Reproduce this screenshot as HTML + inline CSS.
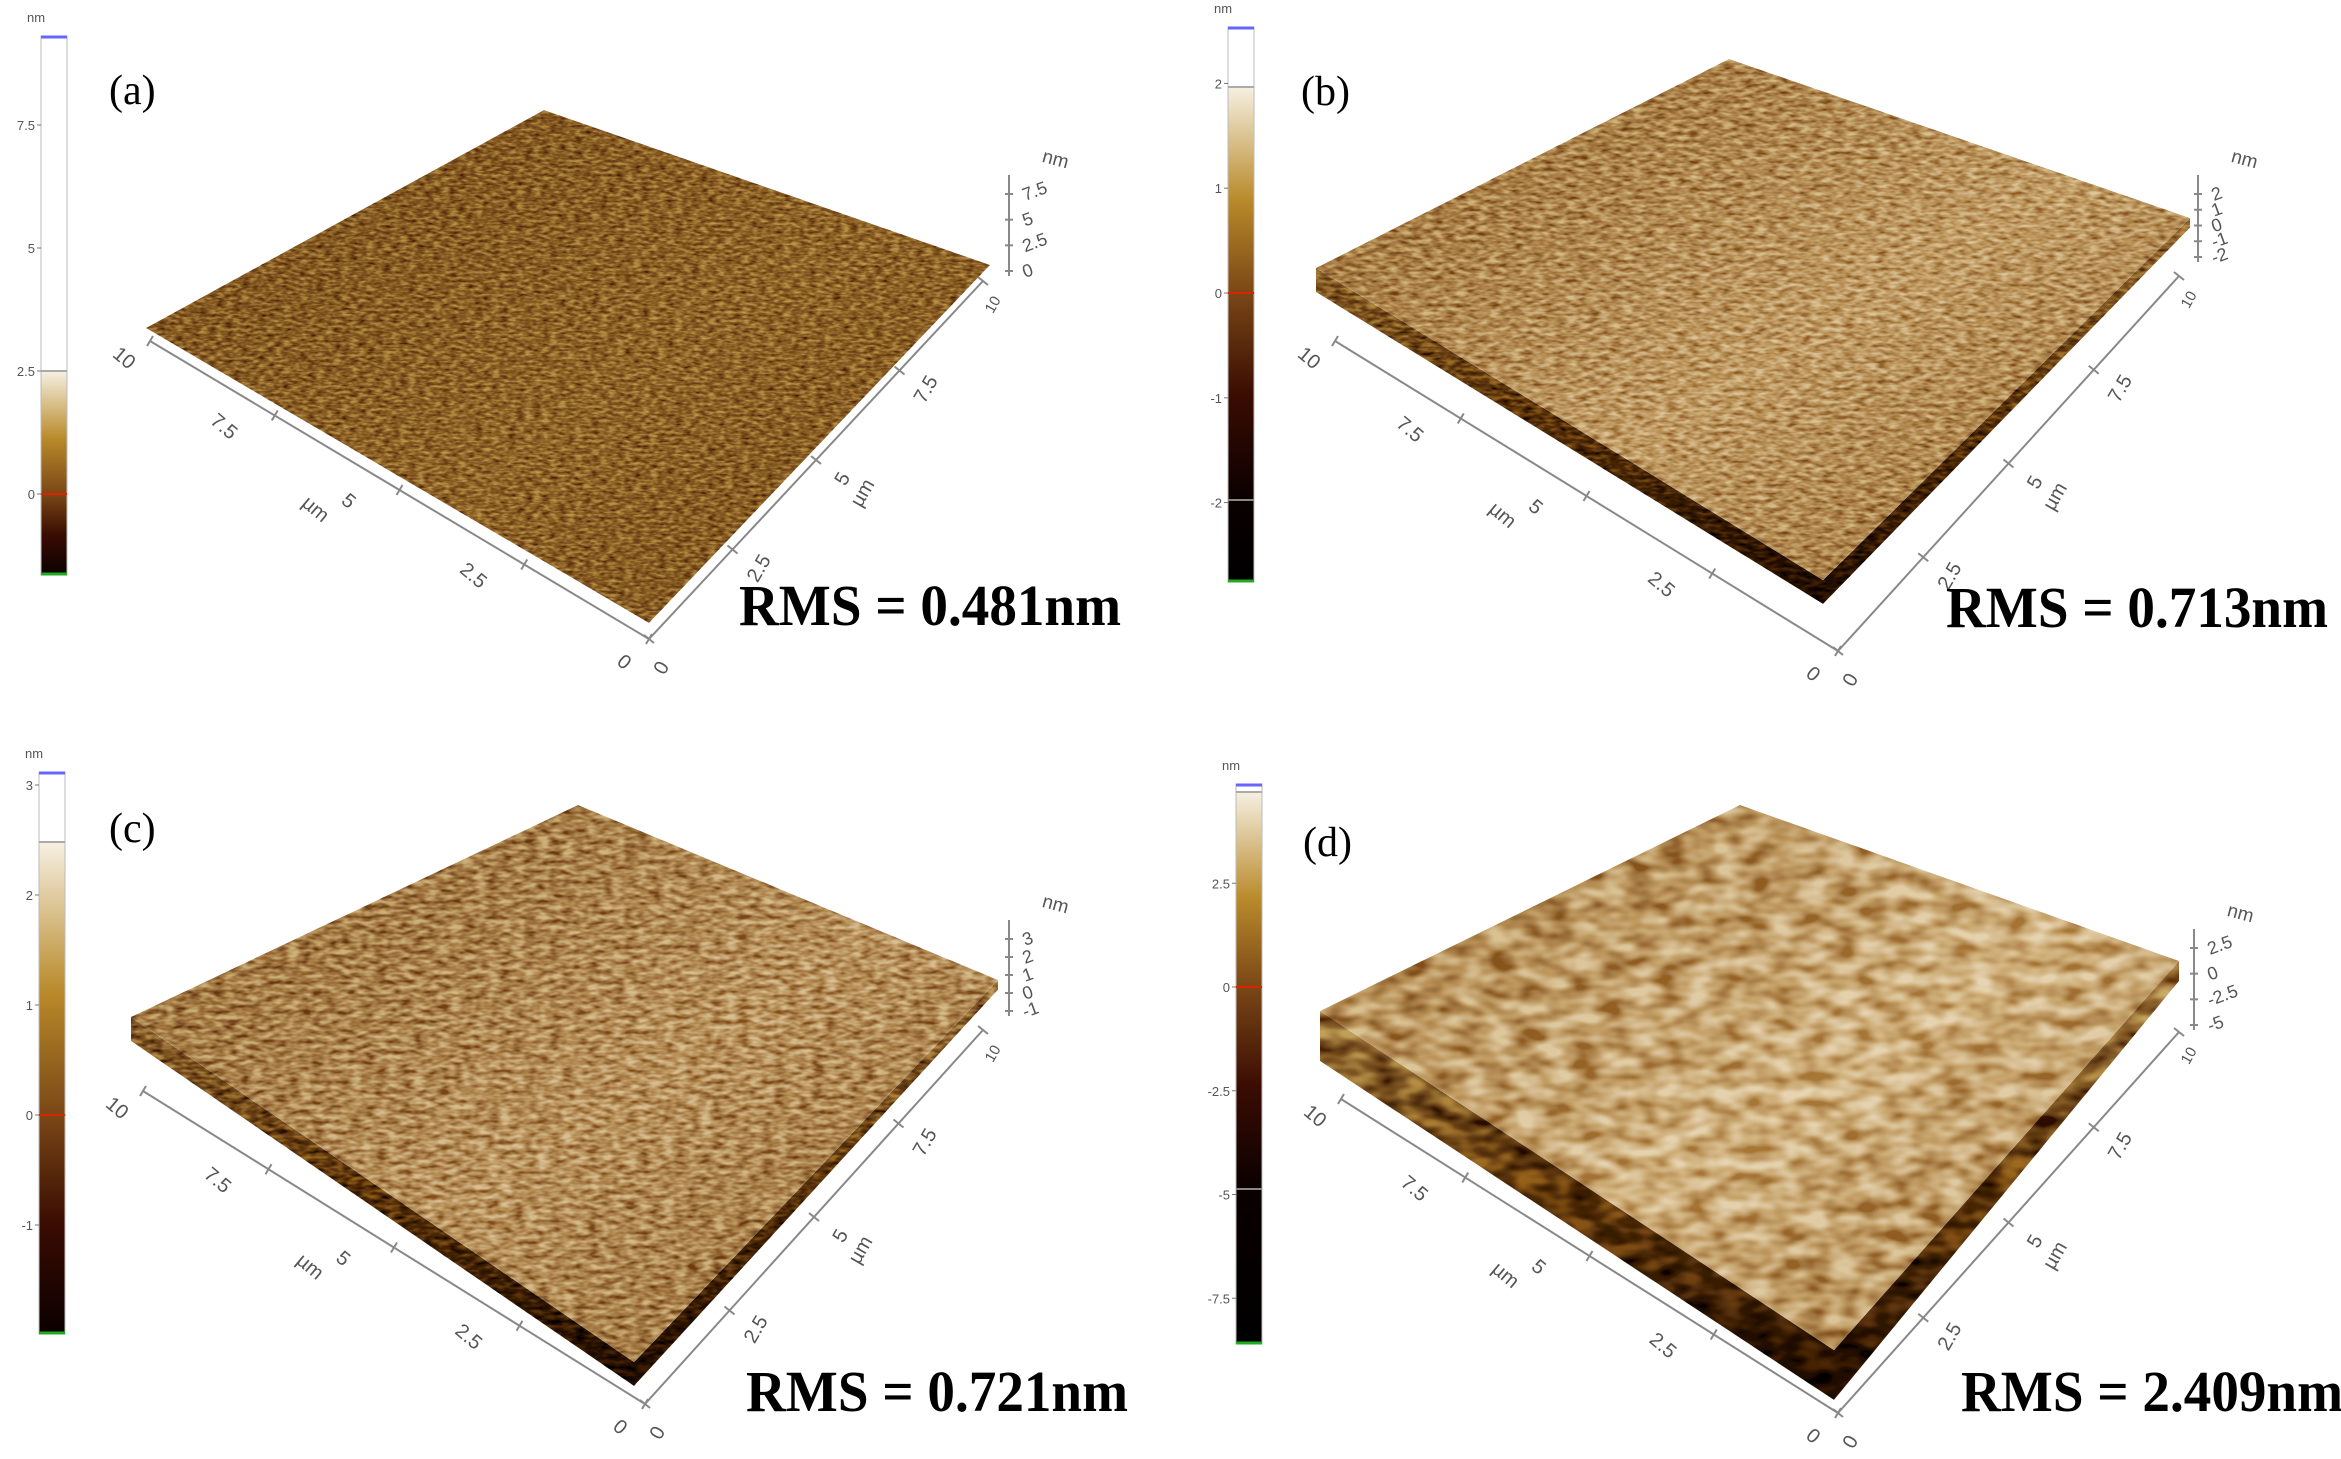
<!DOCTYPE html>
<html><head><meta charset="utf-8">
<style>
html,body{margin:0;padding:0;background:#fff;overflow:hidden;width:2341px;height:1459px;}
svg{display:block;}
text{font-family:"Liberation Sans",sans-serif;}
.serif{font-family:"Liberation Serif",serif;}
</style></head>
<body>
<svg id="fig" width="2341" height="1459" viewBox="0 0 2341 1459" xmlns="http://www.w3.org/2000/svg">
<defs>
  <filter id="tex-a" x="-5%" y="-5%" width="110%" height="110%">
    <feTurbulence type="fractalNoise" baseFrequency="0.12 0.35" numOctaves="2" seed="3" result="n"/>
    <feColorMatrix in="n" type="matrix" values="1.5 0 0 0 -0.25 1.5 0 0 0 -0.25 1.5 0 0 0 -0.25 0 0 0 0 1" result="g"/>
    <feBlend in="g" in2="SourceGraphic" mode="soft-light" result="b"/>
    <feComposite in="b" in2="SourceGraphic" operator="in"/>
  </filter>
  <filter id="tex-b" x="-5%" y="-5%" width="110%" height="110%">
    <feTurbulence type="fractalNoise" baseFrequency="0.09 0.25" numOctaves="2" seed="7" result="n"/>
    <feColorMatrix in="n" type="matrix" values="1.7 0 0 0 -0.35 1.7 0 0 0 -0.35 1.7 0 0 0 -0.35 0 0 0 0 1" result="g"/>
    <feBlend in="g" in2="SourceGraphic" mode="soft-light" result="b"/>
    <feComposite in="b" in2="SourceGraphic" operator="in"/>
  </filter>
  <filter id="tex-c" x="-5%" y="-5%" width="110%" height="110%">
    <feTurbulence type="fractalNoise" baseFrequency="0.08 0.2" numOctaves="2" seed="11" result="n"/>
    <feColorMatrix in="n" type="matrix" values="1.8 0 0 0 -0.4 1.8 0 0 0 -0.4 1.8 0 0 0 -0.4 0 0 0 0 1" result="g"/>
    <feBlend in="g" in2="SourceGraphic" mode="soft-light" result="b"/>
    <feComposite in="b" in2="SourceGraphic" operator="in"/>
  </filter>
  <filter id="tex-d" x="-5%" y="-5%" width="110%" height="110%">
    <feTurbulence type="fractalNoise" baseFrequency="0.035 0.07" numOctaves="2" seed="5" result="n"/>
    <feColorMatrix in="n" type="matrix" values="2.0 0 0 0 -0.5 2.0 0 0 0 -0.5 2.0 0 0 0 -0.5 0 0 0 0 1" result="g"/>
    <feBlend in="g" in2="SourceGraphic" mode="soft-light" result="b"/>
    <feComposite in="b" in2="SourceGraphic" operator="in"/>
  </filter>
</defs>
</svg>
<script>
// colorbar tick values per panel
const ticksA = [7.5, 5, 2.5, 0];
const ticksB = [2, 1, 0, -1, -2];
const ticksC = [3, 2, 1, 0, -1];
const ticksD = [2.5, 0, -2.5, -5, -7.5];
const labelsA = ["7.5", "5", "2.5", "0"];
const labelsB = ["2", "1", "0", "-1", "-2"];
const labelsC = ["3", "2", "1", "0", "-1"];
const labelsD = ["2.5", "0", "-2.5", "-5", "-7.5"];
const zLabelsA = ["7.5", "5", "2.5", "0"];
const zLabelsB = ["2", "1", "0", "-1", "-2"];
const zLabelsC = ["3", "2", "1", "0", "-1"];
const zLabelsD = ["2.5", "0", "-2.5", "-5"];
const axisLabels = ["0", "2.5", "5", "7.5", "10"];
const rmsValues = ["0.481", "0.713", "0.721", "2.409"];

const NS = "http://www.w3.org/2000/svg";
const svg = document.getElementById('fig');
function mk(tag, attrs, parent) {
  const e = document.createElementNS(NS, tag);
  for (const k in attrs) e.setAttribute(k, attrs[k]);
  (parent || svg).appendChild(e);
  return e;
}

const panels = [
 {id:'a', letter:'(a)', lx:109, ly:104, base:'#7c4f1c', light:'#8f6126', skirt:0,
  L:[146,328], T:[544,110], R:[990,265], B:[649,623],
  O:[649,639], LE:[150,341], RE:[983,281], V:{x:1009,y0:175,y1:276},
  cb:{x:41,y:36,w:26,h:539,whiteEnd:371,zero:494,ppu:49.2,gray:null},
  ticks:ticksA, labels:labelsA, zl:zLabelsA, rmsX:739, rmsY:625, rms:rmsValues[0]},
 {id:'b', letter:'(b)', lx:1301, ly:105, base:'#98692e', light:'#c09a60', skirt:24,
  L:[1316,268], T:[1729,59], R:[2190,218], B:[1823,580],
  O:[1838,651], LE:[1335,341], RE:[2179,276], V:{x:2198,y0:175,y1:262},
  cb:{x:1228,y:27,w:26,h:555,whiteEnd:87,zero:293,ppu:104.8,gray:500},
  ticks:ticksB, labels:labelsB, zl:zLabelsB, rmsX:1946, rmsY:627, rms:rmsValues[1]},
 {id:'c', letter:'(c)', lx:109, ly:842, base:'#946630', light:'#b89058', skirt:24,
  L:[131,1017], T:[578,805], R:[998,980], B:[634,1362],
  O:[645,1404], LE:[143,1091], RE:[983,1030], V:{x:1009,y0:920,y1:1016},
  cb:{x:39,y:772,w:26,h:562,whiteEnd:842,zero:1115,ppu:110,gray:null},
  ticks:ticksC, labels:labelsC, zl:zLabelsC, rmsX:746, rmsY:1411, rms:rmsValues[2]},
 {id:'d', letter:'(d)', lx:1303, ly:856, base:'#a87c3e', light:'#d0b07a', skirt:50,
  L:[1320,1011], T:[1740,805], R:[2179,961], B:[1834,1350],
  O:[1838,1413], LE:[1341,1099], RE:[2179,1032], V:{x:2194,y0:929,y1:1030},
  cb:{x:1236,y:784,w:26,h:560,whiteEnd:792,zero:987,ppu:41.5,gray:1189},
  ticks:ticksD, labels:labelsD, zl:zLabelsD, rmsX:1961, rmsY:1411, rms:rmsValues[3]}
];

panels.forEach(p => {
  const g = mk('g', {});
  
  
  const defs = svg.querySelector('defs');

  // colorbar
  const cb = p.cb;
  const gid = 'cbgrad-' + p.id;
  const lg = mk('linearGradient', {id:gid, x1:0, y1:0, x2:0, y2:1}, defs);
  const fr = y => ((y - cb.y) / cb.h).toFixed(3);
  const wE = fr(cb.whiteEnd), z = fr(cb.zero);
  const darkEnd = cb.gray ? fr(cb.gray) : 1;
  const stops = [[0,'#ffffff'],[wE,'#ffffff'],[wE,'#f6f0e2'],
    [(+wE + (+z - wE) * 0.55).toFixed(3),'#b98a2a'],[z,'#7a4716'],
    [(+z + (darkEnd - z) * 0.5).toFixed(3),'#3a0c02'],[darkEnd,'#0a0000'],[1,'#000000']];
  stops.forEach(s => mk('stop', {offset:s[0], 'stop-color':s[1]}, lg));
  const bar = mk('rect', {x:cb.x, y:cb.y, width:cb.w, height:cb.h, fill:'url(#'+gid+')', stroke:'#bbb', 'stroke-width':1}, g);
  
  
  mk('line', {x1:cb.x, x2:cb.x+cb.w, y1:cb.y+1, y2:cb.y+1, stroke:'#6666ff', 'stroke-width':3}, g);
  mk('line', {x1:cb.x, x2:cb.x+cb.w, y1:cb.y+cb.h-1, y2:cb.y+cb.h-1, stroke:'#22aa22', 'stroke-width':3}, g);
  mk('line', {x1:cb.x, x2:cb.x+cb.w, y1:cb.zero, y2:cb.zero, stroke:'#dd2200', 'stroke-width':2}, g);
  mk('line', {x1:cb.x, x2:cb.x+cb.w, y1:cb.whiteEnd, y2:cb.whiteEnd, stroke:'#aaa', 'stroke-width':2}, g);
  if (cb.gray) mk('line', {x1:cb.x, x2:cb.x+cb.w, y1:cb.gray, y2:cb.gray, stroke:'#888', 'stroke-width':2}, g);
  const nm = mk('text', {x:cb.x-14, y:cb.y-14, 'font-size':13, fill:'#555'}, g);
  nm.textContent = 'nm';
  
  
  p.ticks.forEach((v, i) => {
    const y = cb.zero - v * cb.ppu;
    mk('line', {x1:cb.x-4, x2:cb.x, y1:y, y2:y, stroke:'#777', 'stroke-width':1}, g);
    const t = mk('text', {x:cb.x-6, y:y+5, 'font-size':13, fill:'#555', 'text-anchor':'end'}, g);
    t.textContent = p.labels[i];
    
    
  });

  // surface skirt (front faces)
  if (p.skirt) {
    const sg = 'sk-' + p.id;
    const lg2 = mk('linearGradient', {id:sg, x1:0, y1:0, x2:0, y2:1}, defs);
    mk('stop', {offset:0, 'stop-color':p.base}, lg2);
    mk('stop', {offset:0.5, 'stop-color':'#5a3208'}, lg2);
    mk('stop', {offset:1, 'stop-color':'#1a0800'}, lg2);
    const s = p.skirt;
    const sk = mk('polygon', {points:[p.L, [p.L[0], p.L[1]+s], [p.B[0], p.B[1]+s], [p.R[0], p.R[1]+s*0.4], p.R, p.B].map(q=>q.join(',')).join(' '),
      fill:'url(#'+sg+')', filter:'url(#tex-'+p.id+')'}, g);
    
    
  }
  // surface top
  const tg = 'tg-' + p.id;
  const lg3 = mk('linearGradient', {id:tg, x1:0, y1:0, x2:1, y2:1}, defs);
  mk('stop', {offset:0, 'stop-color':p.base}, lg3);
  mk('stop', {offset:0.55, 'stop-color':p.light}, lg3);
  mk('stop', {offset:1, 'stop-color':p.base}, lg3);
  const surf = mk('polygon', {points:[p.L,p.T,p.R,p.B].map(q=>q.join(',')).join(' '), fill:'url(#'+tg+')', filter:'url(#tex-'+p.id+')'}, g);
  
  

  // axes
  const ax = mk('g', {stroke:'#888', 'stroke-width':2, fill:'none'}, g);
  
  
  mk('line', {x1:p.O[0], y1:p.O[1], x2:p.LE[0], y2:p.LE[1]}, ax);
  mk('line', {x1:p.O[0], y1:p.O[1], x2:p.RE[0], y2:p.RE[1]}, ax);
  mk('line', {x1:p.V.x, y1:p.V.y0, x2:p.V.x, y2:p.V.y1}, ax);
  const lerp = (a,b,t) => [a[0]+(b[0]-a[0])*t, a[1]+(b[1]-a[1])*t];
  axisLabels.forEach((lab, i) => {
    const t = i / 4;
    const pl = lerp(p.O, p.LE, t), pr = lerp(p.O, p.RE, t);
    mk('line', {x1:pl[0]-3, y1:pl[1]+5, x2:pl[0]+3, y2:pl[1]-5}, ax);
    mk('line', {x1:pr[0]-5, y1:pr[1]-4, x2:pr[0]+5, y2:pr[1]+4}, ax);
    let lx, ly;
    if (i === 0) { lx = p.O[0]-29; ly = p.O[1]+28; }
    else if (i === 4) { lx = pl[0]-30; ly = pl[1]+22; }
    else { lx = pl[0]-55; ly = pl[1]+16; }
    const tl = mk('text', {x:lx, y:ly, 'font-size':20, fill:'#555', 'text-anchor':'middle', transform:'rotate(40 '+lx+' '+ly+')'}, g);
    tl.textContent = lab;
    
    
    let rx, ry;
    if (i === 0) { rx = p.O[0]+18; ry = p.O[1]+32; }
    else if (i === 4) { rx = pr[0]+14; ry = pr[1]+26; }
    else { rx = pr[0]+32; ry = pr[1]+22; }
    const tr = mk('text', {x:rx, y:ry, 'font-size': i===4?15:20, fill:'#555', 'text-anchor':'middle', transform:'rotate(-60 '+rx+' '+ry+')'}, g);
    tr.textContent = lab;
    
    
  });
  const mid = lerp(p.O, p.LE, 0.5);
  const ux = mid[0]-88, uy = mid[1]+24;
  const ul = mk('text', {x:ux, y:uy, 'font-size':20, fill:'#555', 'text-anchor':'middle', transform:'rotate(40 '+ux+' '+uy+')'}, g);
  ul.textContent = 'µm';
  
  
  const midr = lerp(p.O, p.RE, 0.5);
  const vx = midr[0]+52, vy = midr[1]+36;
  const ur = mk('text', {x:vx, y:vy, 'font-size':20, fill:'#555', 'text-anchor':'middle', transform:'rotate(-60 '+vx+' '+vy+')'}, g);
  ur.textContent = 'µm';
  
  
  // z axis
  const zx = p.V.x+45, zy = p.V.y0-10;
  const zn = mk('text', {x:zx, y:zy, 'font-size':19, fill:'#555', 'text-anchor':'middle', transform:'rotate(15 '+zx+' '+zy+')'}, g);
  zn.textContent = 'nm';
  
  
  const n = p.zl.length;
  p.zl.forEach((lab, i) => {
    const y = p.V.y0 + 26 + i * (p.V.y1 - p.V.y0 - 24) / (n - 1);
    mk('line', {x1:p.V.x-4, y1:y-7, x2:p.V.x+4, y2:y-7}, ax);
    const tz = mk('text', {x:p.V.x+16, y:y, 'font-size':18, fill:'#555', transform:'rotate(-20 '+(p.V.x+16)+' '+y+')'}, g);
    tz.textContent = lab;
    
    
  });

  // letters and RMS
  const lt = mk('text', {x:p.lx, y:p.ly, 'font-size':42, fill:'#000', class:'serif'}, g);
  lt.textContent = p.letter;
  
  
  const rt = mk('text', {x:p.rmsX, y:p.rmsY, 'font-size':58, 'font-weight':'bold', fill:'#000', class:'serif', textLength:382, lengthAdjust:'spacingAndGlyphs'}, g);
  rt.textContent = 'RMS = ' + p.rms + 'nm';
  
  
});
</script>
</body></html>
